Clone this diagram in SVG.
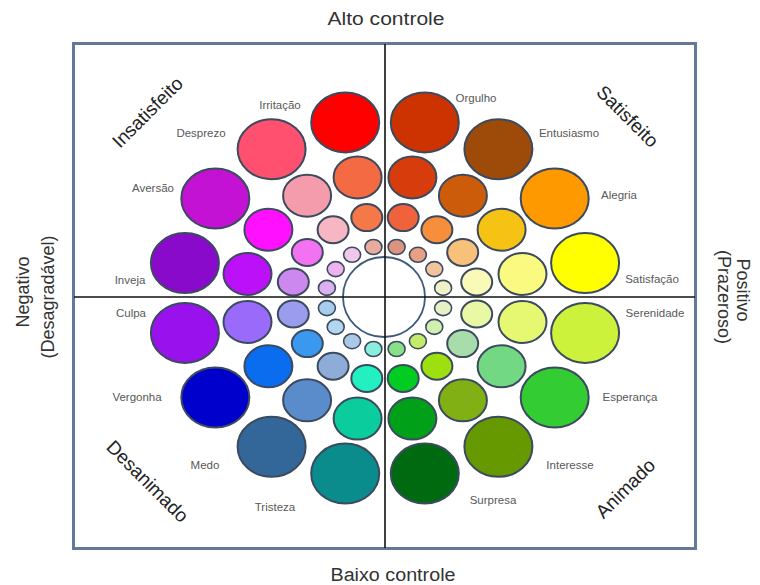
<svg xmlns="http://www.w3.org/2000/svg" width="760" height="585" viewBox="0 0 760 585">
<style>
.c{stroke:#3c4a5e;stroke-width:2}
.c1{stroke:#3c4a5e;stroke-width:1.6}
.lbl{font-family:"Liberation Sans",Arial,sans-serif;font-size:11.5px;fill:#585858;text-anchor:middle}
.q{font-family:"Liberation Sans",Arial,sans-serif;font-size:19px;fill:#222;text-anchor:middle}
.ax{font-family:"Liberation Sans",Arial,sans-serif;font-size:18px;fill:#333;text-anchor:middle}
</style>
<rect width="760" height="585" fill="#ffffff"/>
<g id="frame">
<rect x="73.5" y="43.5" width="622" height="505" fill="none" stroke="#63799a" stroke-width="3"/>
</g>
<g id="center"><ellipse cx="384" cy="297" rx="41" ry="40" fill="none" stroke="#3d5a7a" stroke-width="1.8"/></g>

<g id="orgulho">
<ellipse class="c" cx="424.8" cy="122.4" rx="34" ry="30" fill="#cc3300"/>
<ellipse class="c" cx="412.4" cy="177.4" rx="24" ry="21" fill="#d63c0c"/>
<ellipse class="c" cx="403.2" cy="217.6" rx="15.5" ry="13.5" fill="#f0623c"/>
<ellipse class="c1" cx="396.6" cy="247" rx="8.5" ry="7.5" fill="#dc9480"/>
<text class="lbl" x="476" y="102">Orgulho</text>
</g>
<g id="entusiasmo">
<ellipse class="c" cx="498.4" cy="149.2" rx="34" ry="30" fill="#9e4a08"/>
<ellipse class="c" cx="462.9" cy="195.7" rx="24" ry="21" fill="#cc5c0a"/>
<ellipse class="c" cx="436.9" cy="229.8" rx="15.5" ry="13.5" fill="#f78e3c"/>
<ellipse class="c1" cx="417.9" cy="254.8" rx="8.5" ry="7.5" fill="#e8a084"/>
<text class="lbl" x="569" y="137">Entusiasmo</text>
</g>
<g id="alegria">
<ellipse class="c" cx="554.7" cy="198.5" rx="34" ry="30" fill="#ff9900"/>
<ellipse class="c" cx="501.6" cy="229.7" rx="24" ry="21" fill="#f6c214"/>
<ellipse class="c" cx="462.7" cy="252.4" rx="15.5" ry="13.5" fill="#f8c078"/>
<ellipse class="c1" cx="434.3" cy="269.1" rx="8.5" ry="7.5" fill="#f2c49c"/>
<text class="lbl" x="619" y="199">Alegria</text>
</g>
<g id="satisfacao">
<ellipse class="c" cx="585.1" cy="263.1" rx="34" ry="30" fill="#ffff00"/>
<ellipse class="c" cx="522.5" cy="274" rx="24" ry="21" fill="#fafa80"/>
<ellipse class="c" cx="476.7" cy="282" rx="15.5" ry="13.5" fill="#fafab8"/>
<ellipse class="c1" cx="443.1" cy="287.9" rx="8.5" ry="7.5" fill="#f2f2c8"/>
<text class="lbl" x="652" y="283">Satisfação</text>
</g>
<g id="serenidade">
<ellipse class="c" cx="585.1" cy="332.9" rx="34" ry="30" fill="#ccf23c"/>
<ellipse class="c" cx="522.5" cy="322" rx="24" ry="21" fill="#e6f872"/>
<ellipse class="c" cx="476.7" cy="314" rx="15.5" ry="13.5" fill="#e8f8a4"/>
<ellipse class="c1" cx="443.1" cy="308.1" rx="8.5" ry="7.5" fill="#e6f2c6"/>
<text class="lbl" x="655" y="317">Serenidade</text>
</g>
<g id="esperanca">
<ellipse class="c" cx="554.7" cy="397.5" rx="34" ry="30" fill="#33cc33"/>
<ellipse class="c" cx="501.6" cy="366.3" rx="24" ry="21" fill="#72d884"/>
<ellipse class="c" cx="462.7" cy="343.6" rx="15.5" ry="13.5" fill="#a8dcaa"/>
<ellipse class="c1" cx="434.3" cy="326.9" rx="8.5" ry="7.5" fill="#d0f0b0"/>
<text class="lbl" x="630" y="401">Esperança</text>
</g>
<g id="interesse">
<ellipse class="c" cx="498.4" cy="446.8" rx="34" ry="30" fill="#669900"/>
<ellipse class="c" cx="462.9" cy="400.3" rx="24" ry="21" fill="#80b014"/>
<ellipse class="c" cx="436.9" cy="366.2" rx="15.5" ry="13.5" fill="#9edf10"/>
<ellipse class="c1" cx="417.9" cy="341.2" rx="8.5" ry="7.5" fill="#c4ea6a"/>
<text class="lbl" x="570" y="469">Interesse</text>
</g>
<g id="surpresa">
<ellipse class="c" cx="424.8" cy="473.6" rx="34" ry="30" fill="#006a10"/>
<ellipse class="c" cx="412.4" cy="418.6" rx="24" ry="21" fill="#00a018"/>
<ellipse class="c" cx="403.2" cy="378.4" rx="15.5" ry="13.5" fill="#00cc22"/>
<ellipse class="c1" cx="396.6" cy="349" rx="8.5" ry="7.5" fill="#88e088"/>
<text class="lbl" x="493" y="504">Surpresa</text>
</g>
<g id="irritacao">
<ellipse class="c" cx="345.2" cy="122.4" rx="34" ry="30" fill="#ff0000"/>
<ellipse class="c" cx="357.6" cy="177.4" rx="24" ry="21" fill="#f46a42"/>
<ellipse class="c" cx="366.8" cy="217.6" rx="15.5" ry="13.5" fill="#f47848"/>
<ellipse class="c1" cx="373.4" cy="247" rx="8.5" ry="7.5" fill="#e8ac9c"/>
<text class="lbl" x="280" y="109">Irritação</text>
</g>
<g id="desprezo">
<ellipse class="c" cx="271.6" cy="149.2" rx="34" ry="30" fill="#ff5070"/>
<ellipse class="c" cx="307.1" cy="195.7" rx="24" ry="21" fill="#f59cac"/>
<ellipse class="c" cx="333.1" cy="229.8" rx="15.5" ry="13.5" fill="#f7b6c2"/>
<ellipse class="c1" cx="352.1" cy="254.8" rx="8.5" ry="7.5" fill="#efc8ea"/>
<text class="lbl" x="201" y="137">Desprezo</text>
</g>
<g id="aversao">
<ellipse class="c" cx="215.3" cy="198.5" rx="34" ry="30" fill="#c412d4"/>
<ellipse class="c" cx="268.4" cy="229.7" rx="24" ry="21" fill="#ff10ff"/>
<ellipse class="c" cx="307.3" cy="252.4" rx="15.5" ry="13.5" fill="#f272f2"/>
<ellipse class="c1" cx="335.7" cy="269.1" rx="8.5" ry="7.5" fill="#efb2ef"/>
<text class="lbl" x="153" y="192">Aversão</text>
</g>
<g id="inveja">
<ellipse class="c" cx="184.9" cy="263.1" rx="34" ry="30" fill="#8a0acc"/>
<ellipse class="c" cx="247.5" cy="274" rx="24" ry="21" fill="#bb10f8"/>
<ellipse class="c" cx="293.3" cy="282" rx="15.5" ry="13.5" fill="#cc88ee"/>
<ellipse class="c1" cx="326.9" cy="287.9" rx="8.5" ry="7.5" fill="#dcb0f0"/>
<text class="lbl" x="130" y="284">Inveja</text>
</g>
<g id="culpa">
<ellipse class="c" cx="184.9" cy="332.9" rx="34" ry="30" fill="#9912ee"/>
<ellipse class="c" cx="247.5" cy="322" rx="24" ry="21" fill="#9a6afa"/>
<ellipse class="c" cx="293.3" cy="314" rx="15.5" ry="13.5" fill="#9c9cee"/>
<ellipse class="c1" cx="326.9" cy="308.1" rx="8.5" ry="7.5" fill="#a8ccee"/>
<text class="lbl" x="131" y="317">Culpa</text>
</g>
<g id="vergonha">
<ellipse class="c" cx="215.3" cy="397.5" rx="34" ry="30" fill="#0000cc"/>
<ellipse class="c" cx="268.4" cy="366.3" rx="24" ry="21" fill="#0a6cee"/>
<ellipse class="c" cx="307.3" cy="343.6" rx="15.5" ry="13.5" fill="#3a98ee"/>
<ellipse class="c1" cx="335.7" cy="326.9" rx="8.5" ry="7.5" fill="#b0d6f0"/>
<text class="lbl" x="137" y="401">Vergonha</text>
</g>
<g id="medo">
<ellipse class="c" cx="271.6" cy="446.8" rx="34" ry="30" fill="#336699"/>
<ellipse class="c" cx="307.1" cy="400.3" rx="24" ry="21" fill="#5a8ccc"/>
<ellipse class="c" cx="333.1" cy="366.2" rx="15.5" ry="13.5" fill="#8eacd8"/>
<ellipse class="c1" cx="352.1" cy="341.2" rx="8.5" ry="7.5" fill="#acc8e8"/>
<text class="lbl" x="205" y="469">Medo</text>
</g>
<g id="tristeza">
<ellipse class="c" cx="345.2" cy="473.6" rx="34" ry="30" fill="#0a8c8c"/>
<ellipse class="c" cx="357.6" cy="418.6" rx="24" ry="21" fill="#0acc9c"/>
<ellipse class="c" cx="366.8" cy="378.4" rx="15.5" ry="13.5" fill="#22f0c0"/>
<ellipse class="c1" cx="373.4" cy="349" rx="8.5" ry="7.5" fill="#8aeedd"/>
<text class="lbl" x="275" y="511">Tristeza</text>
</g>

<g id="axes" stroke="#111" stroke-width="1.6">
<line x1="385" y1="44" x2="385" y2="548"/>
<line x1="74" y1="297" x2="695" y2="297"/>
</g>

<g id="quadrant-labels">
<text class="q" transform="translate(152,117) rotate(-45)">Insatisfeito</text>
<text class="q" transform="translate(623,121) rotate(45)">Satisfeito</text>
<text class="q" transform="translate(143,486) rotate(45)">Desanimado</text>
<text class="q" transform="translate(630,493) rotate(-45)">Animado</text>
</g>
<g id="axis-labels">
<text class="ax" x="386" y="25" textLength="117" lengthAdjust="spacingAndGlyphs">Alto controle</text>
<text class="ax" x="393" y="581" textLength="125" lengthAdjust="spacingAndGlyphs">Baixo controle</text>
<text class="ax" transform="translate(29,292) rotate(-90)">Negativo</text>
<text class="ax" transform="translate(54,297) rotate(-90)">(Desagradável)</text>
<text class="ax" transform="translate(737,290) rotate(90)">Positivo</text>
<text class="ax" transform="translate(718,297) rotate(90)">(Prazeroso)</text>
</g>
</svg>
